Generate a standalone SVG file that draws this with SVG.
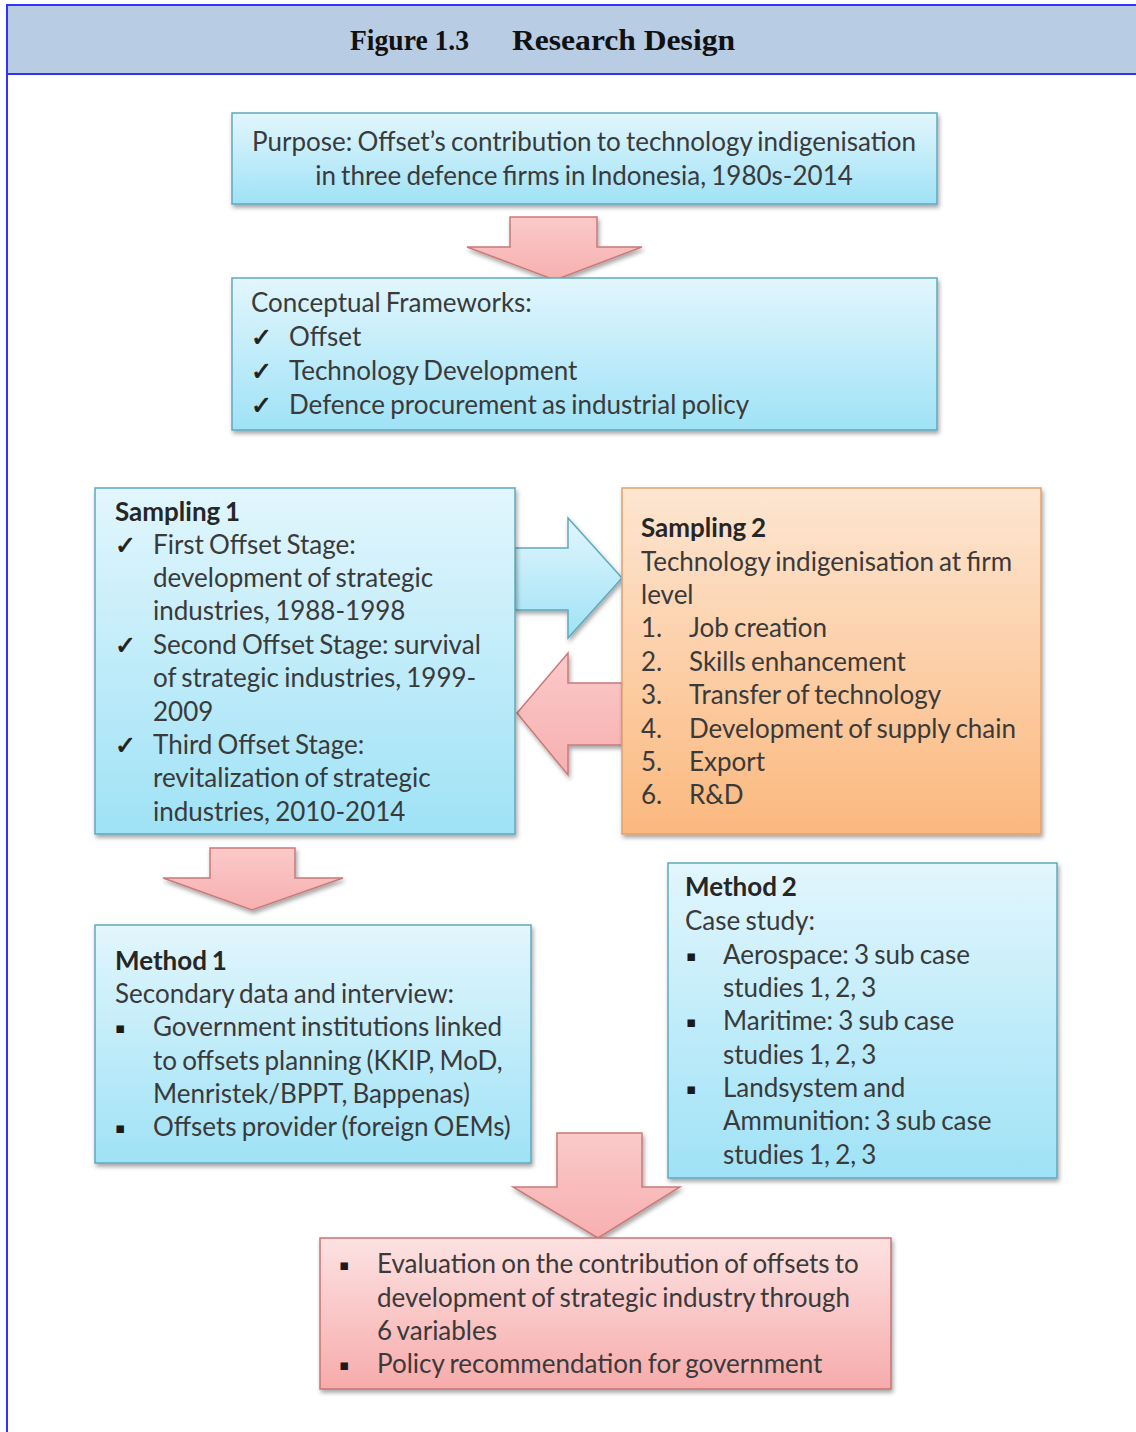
<svg xmlns="http://www.w3.org/2000/svg" width="1136" height="1432" viewBox="0 0 1136 1432">
  <defs>
    <linearGradient id="gBlue" x1="0" y1="0" x2="0" y2="1">
      <stop offset="0" stop-color="#e2f6fd"/>
      <stop offset="1" stop-color="#9fe2f6"/>
    </linearGradient>
    <linearGradient id="gOrange" x1="0" y1="0" x2="0" y2="1">
      <stop offset="0" stop-color="#fde6d2"/>
      <stop offset="1" stop-color="#fbb87e"/>
    </linearGradient>
    <linearGradient id="gPink" x1="0" y1="0" x2="0" y2="1">
      <stop offset="0" stop-color="#fde2e2"/>
      <stop offset="1" stop-color="#f7abab"/>
    </linearGradient>
    <linearGradient id="gPinkArrow" x1="0" y1="0" x2="0" y2="1">
      <stop offset="0" stop-color="#fbc9c9"/>
      <stop offset="1" stop-color="#f7b0b0"/>
    </linearGradient>
    <filter id="shadow" x="-5%" y="-5%" width="110%" height="115%">
      <feDropShadow dx="1.5" dy="3" stdDeviation="2" flood-color="#000" flood-opacity="0.35"/>
    </filter>
  </defs>
  <style>
    .box-blue { fill: url(#gBlue); stroke: #5fa9bf; stroke-width: 1.5; filter: url(#shadow); }
    .box-orange { fill: url(#gOrange); stroke: #e0a36c; stroke-width: 1.5; filter: url(#shadow); }
    .box-pink { fill: url(#gPink); stroke: #c97373; stroke-width: 1.5; filter: url(#shadow); }
    .arr-pink { fill: url(#gPinkArrow); stroke: #c97a7a; stroke-width: 1.5; filter: url(#shadow); }
    .arr-blue { fill: url(#gBlue); stroke: #5fa9bf; stroke-width: 1.5; filter: url(#shadow); }
    text { font-family: Lato, "Liberation Sans", sans-serif; font-size: 26px; fill: #3a3a3a; word-spacing: -1.5px; }
    .b { font-weight: bold; fill: #262626; }
    .ck { font-family: "DejaVu Sans", sans-serif; font-size: 25px; fill: #1f1f1f; stroke: #1f1f1f; stroke-width: 0.9; word-spacing: 0; }
    .bl { font-family: "DejaVu Sans", sans-serif; font-size: 15px; fill: #1a1a1a; word-spacing: 0; }
    .title { font-family: "Liberation Serif", serif; font-weight: bold; font-size: 30px; fill: #111; word-spacing: 0; }
  </style>

  <!-- page frame and heading band -->
  <rect x="7" y="5" width="1140" height="69" fill="#b8cce4"/>
  <line x1="7" y1="5" x2="1136" y2="5" stroke="#3333ff" stroke-width="2"/>
  <line x1="7" y1="74" x2="1136" y2="74" stroke="#3333ff" stroke-width="2"/>
  <line x1="7" y1="4" x2="7" y2="1432" stroke="#3333ff" stroke-width="2"/>
  <text class="title" x="350" y="50" textLength="119" lengthAdjust="spacingAndGlyphs">Figure 1.3</text>
  <text class="title" x="512" y="50" textLength="223" lengthAdjust="spacingAndGlyphs">Research Design</text>

  <!-- connectors: block arrows -->
  <g id="connectors">
    <polygon class="arr-pink" points="510,217 597,217 597,247 642,247 555,280 467,247 510,247"/>
    <polygon class="arr-blue" points="515,548 568,548 568,518 622,578 568,638 568,610 515,610"/>
    <polygon class="arr-pink" points="622,683 568,683 568,653 517,713 568,775 568,745 622,745"/>
    <polygon class="arr-pink" points="210,848 295,848 295,878 343,878 252,910 163,878 210,878"/>
  </g>

  <g id="purpose">
    <rect class="box-blue" x="232" y="113" width="705" height="91"/>
    <text x="584" y="151" text-anchor="middle">Purpose: Offset’s contribution to technology indigenisation</text>
    <text x="584" y="185" text-anchor="middle">in three defence firms in Indonesia, 1980s-2014</text>
  </g>

  <g id="frameworks">
    <rect class="box-blue" x="232" y="278" width="705" height="152"/>
    <text x="251" y="312">Conceptual Frameworks:</text>
    <text class="ck" x="251" y="346">✓</text><text x="289" y="346">Offset</text>
    <text class="ck" x="251" y="380">✓</text><text x="289" y="380">Technology Development</text>
    <text class="ck" x="251" y="414">✓</text><text x="289" y="414">Defence procurement as industrial policy</text>
  </g>

  <g id="sampling1">
    <rect class="box-blue" x="95" y="488" width="420" height="346"/>
    <text class="b" x="115" y="521">Sampling 1</text>
    <text class="ck" x="115" y="554">✓</text><text x="153" y="554">First Offset Stage:</text>
    <text x="153" y="587">development of strategic</text>
    <text x="153" y="620">industries, 1988-1998</text>
    <text class="ck" x="115" y="654">✓</text><text x="153" y="654">Second Offset Stage: survival</text>
    <text x="153" y="687">of strategic industries, 1999-</text>
    <text x="153" y="721">2009</text>
    <text class="ck" x="115" y="754">✓</text><text x="153" y="754">Third Offset Stage:</text>
    <text x="153" y="787">revitalization of strategic</text>
    <text x="153" y="821">industries, 2010-2014</text>
  </g>

  <g id="sampling2">
    <rect class="box-orange" x="622" y="488" width="419" height="346"/>
    <text class="b" x="641" y="537">Sampling 2</text>
    <text x="641" y="571">Technology indigenisation at firm</text>
    <text x="641" y="604">level</text>
    <text x="641" y="637">1.</text><text x="689" y="637">Job creation</text>
    <text x="641" y="671">2.</text><text x="689" y="671">Skills enhancement</text>
    <text x="641" y="704">3.</text><text x="689" y="704">Transfer of technology</text>
    <text x="641" y="738">4.</text><text x="689" y="738">Development of supply chain</text>
    <text x="641" y="771">5.</text><text x="689" y="771">Export</text>
    <text x="641" y="804">6.</text><text x="689" y="804">R&amp;D</text>
  </g>

  <g id="method1">
    <rect class="box-blue" x="95" y="925" width="436" height="238"/>
    <text class="b" x="115" y="970">Method 1</text>
    <text x="115" y="1003">Secondary data and interview:</text>
    <text class="bl" x="115" y="1033">▪</text><text x="153" y="1036">Government institutions linked</text>
    <text x="153" y="1070">to offsets planning (KKIP, MoD,</text>
    <text x="153" y="1103">Menristek/BPPT, Bappenas)</text>
    <text class="bl" x="115" y="1133">▪</text><text x="153" y="1136">Offsets provider (foreign OEMs)</text>
  </g>

  <g id="method2">
    <rect class="box-blue" x="668" y="863" width="389" height="315"/>
    <text class="b" x="685" y="896">Method 2</text>
    <text x="685" y="930">Case study:</text>
    <text class="bl" x="686" y="961">▪</text><text x="723" y="964">Aerospace: 3 sub case</text>
    <text x="723" y="997">studies 1, 2, 3</text>
    <text class="bl" x="686" y="1027">▪</text><text x="723" y="1030">Maritime: 3 sub case</text>
    <text x="723" y="1064">studies 1, 2, 3</text>
    <text class="bl" x="686" y="1094">▪</text><text x="723" y="1097">Landsystem and</text>
    <text x="723" y="1130">Ammunition: 3 sub case</text>
    <text x="723" y="1164">studies 1, 2, 3</text>
  </g>

  <!-- final arrow drawn over the two method boxes -->
  <polygon class="arr-pink" points="557,1133 642,1133 642,1187 680,1187 598,1238 513,1187 557,1187"/>

  <g id="outcome">
    <rect class="box-pink" x="320" y="1238" width="571" height="151"/>
    <text class="bl" x="339" y="1270">▪</text><text x="377" y="1273">Evaluation on the contribution of offsets to</text>
    <text x="377" y="1307">development of strategic industry through</text>
    <text x="377" y="1340">6 variables</text>
    <text class="bl" x="339" y="1370">▪</text><text x="377" y="1373">Policy recommendation for government</text>
  </g>
</svg>
